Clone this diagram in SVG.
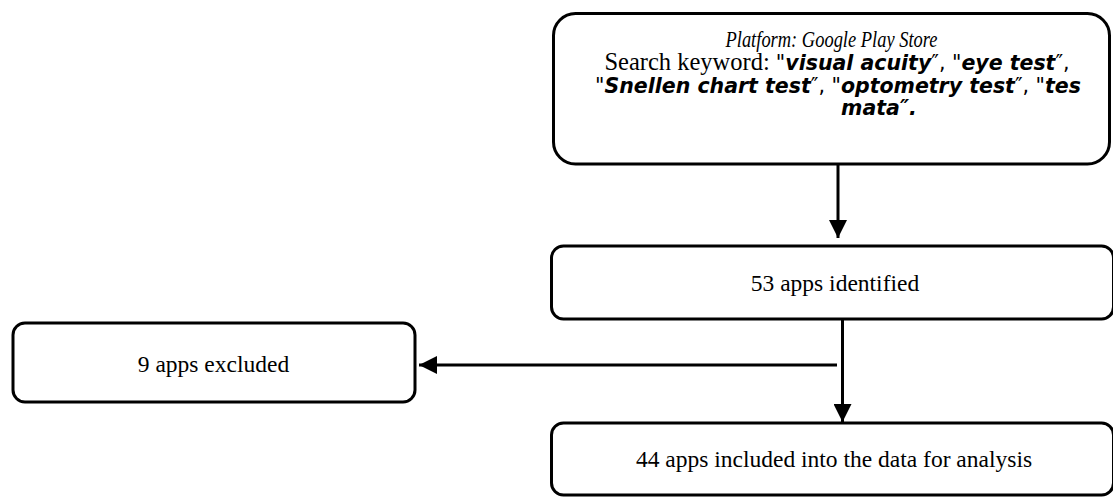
<svg xmlns="http://www.w3.org/2000/svg" width="1113" height="498" viewBox="0 0 1113 498">
  <defs>
    <marker id="arrow" markerUnits="userSpaceOnUse" markerWidth="18" markerHeight="18" viewBox="0 0 16 16" refX="16" refY="8" orient="auto">
      <path d="M0,0 L16,8 L0,16 Z" fill="#000"/>
    </marker>
    <style>
      .box { fill: #fff; stroke: #000; stroke-width: 3; }
      .link { stroke: #000; stroke-width: 3; fill: none; }
      .lbl { font-family: "Liberation Serif", "DejaVu Serif", serif; font-size: 23.5px; fill: #000; text-anchor: middle; }
      .it { font-style: italic; }
      .kw { font-family: "DejaVu Sans", Verdana, sans-serif; font-size: 20.5px; }
      .kwb { font-family: "DejaVu Sans", Verdana, sans-serif; font-size: 20.5px; font-weight: bold; font-style: italic; }
    </style>
  </defs>

  <g id="search">
    <rect class="box" x="553.5" y="13.5" width="556" height="150.5" rx="22" ry="22"/>
    <text class="lbl it" x="831.5" y="47" textLength="212" lengthAdjust="spacingAndGlyphs">Platform: Google Play Store</text>
    <text class="lbl" x="837" y="70"><tspan font-size="24.5px">Search keyword: </tspan><tspan class="kw">"</tspan><tspan class="kwb">visual acuity</tspan><tspan class="kw">″, "</tspan><tspan class="kwb">eye test</tspan><tspan class="kw">″,</tspan></text>
    <text class="lbl" x="838" y="93"><tspan class="kw">"</tspan><tspan class="kwb">Snellen chart test</tspan><tspan class="kw">″, "</tspan><tspan class="kwb">optometry test</tspan><tspan class="kw">″, "</tspan><tspan class="kwb">tes</tspan></text>
    <text class="lbl" x="879" y="115"><tspan class="kwb">mata″.</tspan></text>
  </g>

  <g id="identified">
    <rect class="box" x="551.5" y="246" width="562" height="73" rx="12" ry="12"/>
    <text class="lbl" x="835" y="291">53 apps identified</text>
  </g>

  <g id="excluded">
    <rect class="box" x="13" y="323" width="402" height="79" rx="12" ry="12"/>
    <text class="lbl" x="213.5" y="372">9 apps excluded</text>
  </g>

  <g id="included">
    <rect class="box" x="551.5" y="423" width="562" height="72" rx="12" ry="12"/>
    <text class="lbl" x="834" y="467">44 apps included into the data for analysis</text>
  </g>

  <g id="connectors">
    <line class="link" x1="838" y1="165" x2="838" y2="238" marker-end="url(#arrow)"/>
    <line class="link" x1="842.5" y1="320" x2="842.5" y2="422" marker-end="url(#arrow)"/>
    <line class="link" x1="837" y1="365" x2="419" y2="365" marker-end="url(#arrow)"/>
  </g>
</svg>
